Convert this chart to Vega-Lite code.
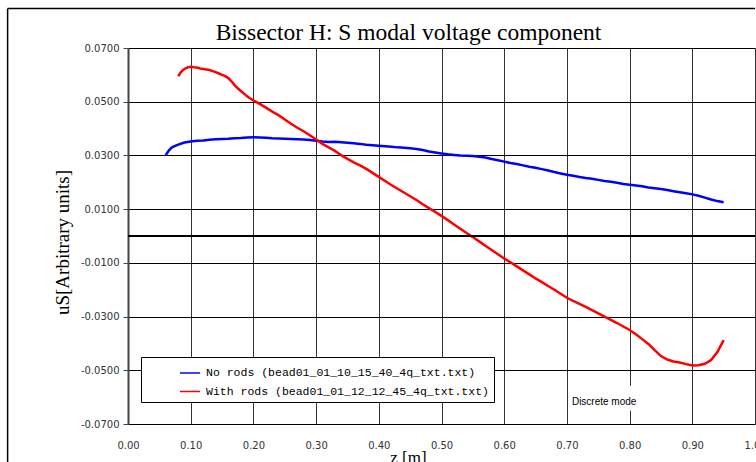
{
  "$schema": "https://vega.github.io/schema/vega-lite/v6.json",
  "width": 627,
  "height": 376,
  "autosize": "none",
  "padding": {"left": 128, "top": 48, "right": 1, "bottom": 38},
  "background": "white",
  "title": {
    "text": "Bissector H: S modal voltage component",
    "font": "Liberation Serif",
    "fontSize": 23.5,
    "fontWeight": "normal",
    "color": "black",
    "anchor": "middle",
    "frame": "group",
    "dx": -33,
    "baseline": "alphabetic",
    "offset": -55.5
  },
  "config": {
    "view": {"stroke": null},
    "locale": {"number": {"decimal": ".", "thousands": ",", "grouping": [3], "currency": ["$", ""], "minus": "-"}},
    "axis": {
      "labelFont": "DejaVu Sans",
      "labelFontSize": 10,
      "labelColor": "#333",
      "titleFont": "Liberation Serif",
      "titleFontSize": 17,
      "titleFontWeight": "normal",
      "titleColor": "black",
      "gridOpacity": 1
    }
  },
  "datasets": {
    "norods": [
      {"z": 0.060, "u": 0.0300}, {"z": 0.065, "u": 0.0318}, {"z": 0.070, "u": 0.0330}, {"z": 0.080, "u": 0.0340},
      {"z": 0.090, "u": 0.0348}, {"z": 0.100, "u": 0.0352}, {"z": 0.110, "u": 0.0355}, {"z": 0.120, "u": 0.0356},
      {"z": 0.130, "u": 0.0358}, {"z": 0.140, "u": 0.0360}, {"z": 0.150, "u": 0.0361}, {"z": 0.160, "u": 0.0362},
      {"z": 0.170, "u": 0.0364}, {"z": 0.180, "u": 0.0365}, {"z": 0.190, "u": 0.0367}, {"z": 0.200, "u": 0.0368},
      {"z": 0.210, "u": 0.0367}, {"z": 0.220, "u": 0.0366}, {"z": 0.230, "u": 0.0364}, {"z": 0.240, "u": 0.0363},
      {"z": 0.250, "u": 0.0362}, {"z": 0.260, "u": 0.0361}, {"z": 0.270, "u": 0.0360}, {"z": 0.280, "u": 0.0359},
      {"z": 0.290, "u": 0.0357}, {"z": 0.300, "u": 0.0355}, {"z": 0.310, "u": 0.0352}, {"z": 0.320, "u": 0.0350},
      {"z": 0.330, "u": 0.0351}, {"z": 0.340, "u": 0.0349}, {"z": 0.350, "u": 0.0347}, {"z": 0.360, "u": 0.0345},
      {"z": 0.370, "u": 0.0343}, {"z": 0.380, "u": 0.0340}, {"z": 0.390, "u": 0.0338}, {"z": 0.400, "u": 0.0336},
      {"z": 0.410, "u": 0.0334}, {"z": 0.420, "u": 0.0332}, {"z": 0.430, "u": 0.0330}, {"z": 0.440, "u": 0.0329},
      {"z": 0.450, "u": 0.0327}, {"z": 0.460, "u": 0.0324}, {"z": 0.470, "u": 0.0320}, {"z": 0.480, "u": 0.0315},
      {"z": 0.490, "u": 0.0311}, {"z": 0.500, "u": 0.0307}, {"z": 0.510, "u": 0.0304}, {"z": 0.520, "u": 0.0302},
      {"z": 0.530, "u": 0.0300}, {"z": 0.540, "u": 0.0299}, {"z": 0.550, "u": 0.0298}, {"z": 0.560, "u": 0.0295},
      {"z": 0.570, "u": 0.0292}, {"z": 0.580, "u": 0.0287}, {"z": 0.590, "u": 0.0282}, {"z": 0.600, "u": 0.0277},
      {"z": 0.610, "u": 0.0272}, {"z": 0.620, "u": 0.0268}, {"z": 0.630, "u": 0.0263}, {"z": 0.640, "u": 0.0258},
      {"z": 0.650, "u": 0.0254}, {"z": 0.660, "u": 0.0249}, {"z": 0.670, "u": 0.0244}, {"z": 0.680, "u": 0.0238},
      {"z": 0.690, "u": 0.0233}, {"z": 0.700, "u": 0.0228}, {"z": 0.710, "u": 0.0224}, {"z": 0.720, "u": 0.0220},
      {"z": 0.730, "u": 0.0216}, {"z": 0.740, "u": 0.0213}, {"z": 0.750, "u": 0.0209}, {"z": 0.760, "u": 0.0205},
      {"z": 0.770, "u": 0.0202}, {"z": 0.780, "u": 0.0198}, {"z": 0.790, "u": 0.0194}, {"z": 0.800, "u": 0.0191},
      {"z": 0.810, "u": 0.0188}, {"z": 0.820, "u": 0.0185}, {"z": 0.830, "u": 0.0181}, {"z": 0.840, "u": 0.0178},
      {"z": 0.850, "u": 0.0175}, {"z": 0.860, "u": 0.0171}, {"z": 0.870, "u": 0.0167}, {"z": 0.880, "u": 0.0163},
      {"z": 0.890, "u": 0.0159}, {"z": 0.900, "u": 0.0155}, {"z": 0.910, "u": 0.0150}, {"z": 0.920, "u": 0.0143},
      {"z": 0.930, "u": 0.0136}, {"z": 0.940, "u": 0.0130}, {"z": 0.950, "u": 0.0126}
    ],
    "withrods": [
      {"z": 0.080, "u": 0.0595}, {"z": 0.085, "u": 0.0612}, {"z": 0.090, "u": 0.0622}, {"z": 0.095, "u": 0.0628},
      {"z": 0.100, "u": 0.0630}, {"z": 0.105, "u": 0.0628}, {"z": 0.110, "u": 0.0627}, {"z": 0.115, "u": 0.0624},
      {"z": 0.120, "u": 0.0622}, {"z": 0.125, "u": 0.0620}, {"z": 0.130, "u": 0.0618}, {"z": 0.135, "u": 0.0614},
      {"z": 0.140, "u": 0.0610}, {"z": 0.145, "u": 0.0605}, {"z": 0.150, "u": 0.0600}, {"z": 0.155, "u": 0.0595},
      {"z": 0.160, "u": 0.0588}, {"z": 0.165, "u": 0.0576}, {"z": 0.170, "u": 0.0562}, {"z": 0.175, "u": 0.0550},
      {"z": 0.180, "u": 0.0540}, {"z": 0.185, "u": 0.0530}, {"z": 0.190, "u": 0.0520}, {"z": 0.195, "u": 0.0512},
      {"z": 0.200, "u": 0.0505}, {"z": 0.210, "u": 0.0492}, {"z": 0.220, "u": 0.0478}, {"z": 0.230, "u": 0.0463},
      {"z": 0.240, "u": 0.0450}, {"z": 0.250, "u": 0.0434}, {"z": 0.260, "u": 0.0418}, {"z": 0.270, "u": 0.0403},
      {"z": 0.280, "u": 0.0390}, {"z": 0.290, "u": 0.0375}, {"z": 0.300, "u": 0.0359}, {"z": 0.310, "u": 0.0343},
      {"z": 0.320, "u": 0.0330}, {"z": 0.330, "u": 0.0317}, {"z": 0.340, "u": 0.0301}, {"z": 0.350, "u": 0.0287},
      {"z": 0.360, "u": 0.0274}, {"z": 0.370, "u": 0.0263}, {"z": 0.380, "u": 0.0250}, {"z": 0.390, "u": 0.0235},
      {"z": 0.400, "u": 0.0220}, {"z": 0.410, "u": 0.0205}, {"z": 0.420, "u": 0.0190}, {"z": 0.430, "u": 0.0176},
      {"z": 0.440, "u": 0.0162}, {"z": 0.450, "u": 0.0148}, {"z": 0.460, "u": 0.0134}, {"z": 0.470, "u": 0.0118},
      {"z": 0.480, "u": 0.0104}, {"z": 0.490, "u": 0.0090}, {"z": 0.500, "u": 0.0075}, {"z": 0.510, "u": 0.0059},
      {"z": 0.520, "u": 0.0043}, {"z": 0.530, "u": 0.0027}, {"z": 0.540, "u": 0.0011}, {"z": 0.550, "u": -0.0004},
      {"z": 0.560, "u": -0.0020}, {"z": 0.570, "u": -0.0036}, {"z": 0.580, "u": -0.0052}, {"z": 0.590, "u": -0.0068},
      {"z": 0.600, "u": -0.0084}, {"z": 0.610, "u": -0.0098}, {"z": 0.620, "u": -0.0113}, {"z": 0.630, "u": -0.0128},
      {"z": 0.640, "u": -0.0143}, {"z": 0.650, "u": -0.0158}, {"z": 0.660, "u": -0.0172}, {"z": 0.670, "u": -0.0186},
      {"z": 0.680, "u": -0.0200}, {"z": 0.690, "u": -0.0215}, {"z": 0.700, "u": -0.0230}, {"z": 0.710, "u": -0.0242},
      {"z": 0.720, "u": -0.0253}, {"z": 0.730, "u": -0.0264}, {"z": 0.740, "u": -0.0276}, {"z": 0.750, "u": -0.0288},
      {"z": 0.760, "u": -0.0300}, {"z": 0.770, "u": -0.0312}, {"z": 0.780, "u": -0.0324}, {"z": 0.790, "u": -0.0337},
      {"z": 0.800, "u": -0.0350}, {"z": 0.810, "u": -0.0366}, {"z": 0.820, "u": -0.0384}, {"z": 0.830, "u": -0.0402},
      {"z": 0.840, "u": -0.0425}, {"z": 0.850, "u": -0.0447}, {"z": 0.860, "u": -0.0460}, {"z": 0.870, "u": -0.0467},
      {"z": 0.880, "u": -0.0471}, {"z": 0.890, "u": -0.0477}, {"z": 0.900, "u": -0.0482}, {"z": 0.910, "u": -0.0481},
      {"z": 0.920, "u": -0.0476}, {"z": 0.930, "u": -0.0462}, {"z": 0.940, "u": -0.0432}, {"z": 0.950, "u": -0.0388}
    ]
  },
  "layer": [
    {
      "data": {"name": "norods"},
      "mark": {"type": "line", "strokeWidth": 2.5},
      "encoding": {
        "x": {
          "field": "z", "type": "quantitative",
          "scale": {"domain": [0, 1], "nice": false, "zero": false},
          "axis": {
            "values": [0, 0.1, 0.2, 0.3, 0.4, 0.5, 0.6, 0.7, 0.8, 0.9, 1.0],
            "format": ".2f",
            "title": "z [m]",
            "titleX": 280, "titleY": 38, "titleAlign": "center", "titleBaseline": "alphabetic",
            "ticks": false, "domain": false, "labelPadding": 16,
            "labelFlush": false, "labelOverlap": false, "labelBound": false,
            "grid": true, "gridColor": "#333", "gridWidth": 1
          }
        },
        "y": {
          "field": "u", "type": "quantitative",
          "scale": {"domain": [-0.07, 0.07], "nice": false, "zero": false},
          "axis": {
            "values": [-0.07, -0.05, -0.03, -0.01, 0.01, 0.03, 0.05, 0.07],
            "format": ".4f",
            "title": "uS[Arbitrary units]",
            "titleFontSize": 19,
            "titleX": -66, "titleY": 194, "titleAlign": "center", "titleBaseline": "middle", "titleAngle": -90,
            "tickSize": 5, "tickColor": "#444", "labelPadding": 4,
            "domain": true, "domainColor": "#444", "domainWidth": 2,
            "grid": true, "gridColor": "black", "gridWidth": 1,
            "labelOverlap": false, "labelBound": false, "labelFlush": false
          }
        },
        "color": {
          "datum": "No rods (bead01_01_10_15_40_4q_txt.txt)",
          "type": "nominal",
          "scale": {
            "domain": ["No rods (bead01_01_10_15_40_4q_txt.txt)", "With rods (bead01_01_12_12_45_4q_txt.txt)"],
            "range": ["#0000ff", "#ff0000"]
          },
          "legend": {
            "title": null,
            "orient": "none",
            "legendX": 13,
            "legendY": 309,
            "fillColor": "white",
            "strokeColor": "black",
            "padding": 5,
            "rowPadding": 1.5,
            "symbolType": "stroke",
            "symbolSize": 400,
            "symbolStrokeWidth": 1.5,
            "symbolOffset": 33,
            "labelOffset": 5,
            "labelFont": "Liberation Mono",
            "labelFontSize": 11.5,
            "labelColor": "black",
            "labelLimit": 500
          }
        }
      }
    },
    {
      "data": {"name": "withrods"},
      "mark": {"type": "line", "strokeWidth": 2.5},
      "encoding": {
        "x": {"field": "z", "type": "quantitative"},
        "y": {"field": "u", "type": "quantitative"},
        "color": {"datum": "With rods (bead01_01_12_12_45_4q_txt.txt)", "type": "nominal"}
      }
    },
    {
      "data": {"values": [{}]},
      "mark": {"type": "rule", "color": "black", "strokeWidth": 2},
      "encoding": {"y": {"datum": 0, "type": "quantitative"}}
    },
    {
      "data": {"values": [{}]},
      "mark": {"type": "rect", "fill": "white"},
      "encoding": {
        "x": {"datum": 0.703, "type": "quantitative"},
        "x2": {"datum": 0.83},
        "y": {"datum": -0.0558, "type": "quantitative"},
        "y2": {"datum": -0.0651}
      }
    },
    {
      "data": {"values": [{}]},
      "mark": {"type": "text", "text": "Discrete mode", "font": "Liberation Sans", "fontSize": 10, "align": "left", "baseline": "middle", "color": "black"},
      "encoding": {
        "x": {"datum": 0.708, "type": "quantitative"},
        "y": {"datum": -0.0618, "type": "quantitative"}
      }
    },
    {
      "data": {"values": [{}]},
      "mark": {"type": "rule", "color": "black", "strokeWidth": 1.5, "clip": false},
      "encoding": {
        "x": {"datum": -0.192, "type": "quantitative"},
        "x2": {"datum": 1.0},
        "y": {"datum": 0.0847, "type": "quantitative"}
      }
    },
    {
      "data": {"values": [{}]},
      "mark": {"type": "rule", "color": "black", "strokeWidth": 1.5, "clip": false},
      "encoding": {
        "x": {"datum": -0.192, "type": "quantitative"},
        "y": {"datum": 0.0847, "type": "quantitative"},
        "y2": {"datum": -0.11}
      }
    }
  ]
}
